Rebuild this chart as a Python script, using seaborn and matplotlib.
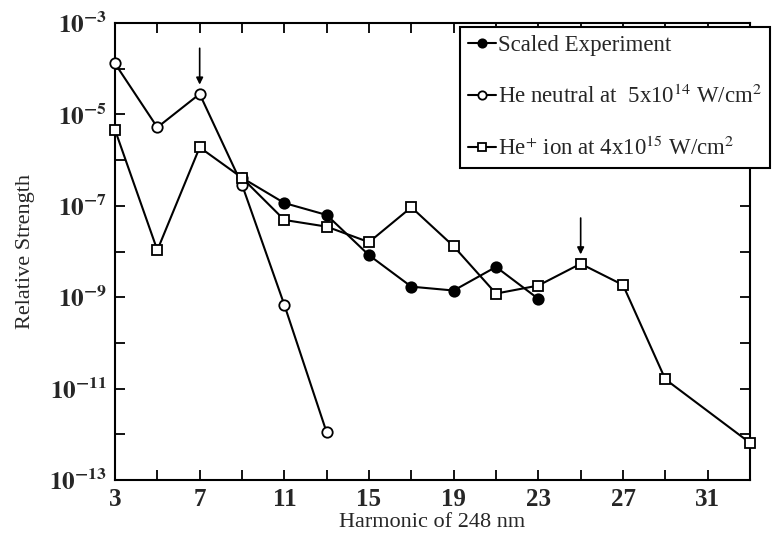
import matplotlib
matplotlib.use("Agg")
import matplotlib.pyplot as plt
import seaborn as sns
import pandas as pd
import numpy as np

# Data
harm_exp = [9, 11, 13, 15, 17, 19, 21, 23]
val_exp = [4.1e-7, 1.15e-7, 6.3e-8, 8.3e-9, 1.7e-9, 1.4e-9, 4.6e-9, 9.2e-10]

harm_neu = [3, 5, 7, 9, 11, 13]
val_neu = [1.3e-4, 5.2e-6, 2.8e-5, 2.9e-7, 6.8e-10, 1.1e-12]

harm_ion = [3, 5, 7, 9, 11, 13, 15, 17, 19, 21, 23, 25, 27, 29, 33]
val_ion = [4.6e-6, 1.07e-8, 1.9e-6, 4.1e-7, 4.9e-8, 3.5e-8, 1.6e-8, 9.3e-8,
           1.3e-8, 1.2e-9, 1.8e-9, 5.4e-9, 1.85e-9, 1.6e-11, 6.5e-13]

labels = ["Scaled Experiment",
          r"He neutral at  5x10$^{14}$ W/cm$^{2}$",
          r"He$^{+}$ ion at 4x10$^{15}$ W/cm$^{2}$"]

xticks_major = [3, 7, 11, 15, 19, 23, 27, 31]
yticks_major = [1e-3, 1e-5, 1e-7, 1e-9, 1e-11, 1e-13]
ytick_labels = [r"$\mathbf{10^{-3}}$", r"$\mathbf{10^{-5}}$", r"$\mathbf{10^{-7}}$",
                r"$\mathbf{10^{-9}}$", r"$\mathbf{10^{-11}}$", r"$\mathbf{10^{-13}}$"]
arrow_x = [7, 25]

sns.set_style("ticks")
plt.rcParams['font.family'] = ['Liberation Serif', 'DejaVu Serif']
plt.rcParams['mathtext.fontset'] = 'stix'

fig = plt.figure(figsize=(7.74, 5.33), dpi=100)
ax = fig.add_axes([115/774, 1 - 480/533, (750-115)/774, (480-23)/533])

df_exp = pd.DataFrame({"h": harm_exp, "v": val_exp})
df_neu = pd.DataFrame({"h": harm_neu, "v": val_neu})
df_ion = pd.DataFrame({"h": harm_ion, "v": val_ion})

common = dict(color="black", linewidth=1.5, markersize=7.5, markeredgewidth=1.3, clip_on=False)
sns.lineplot(data=df_exp, x="h", y="v", ax=ax, marker="o", markerfacecolor="black",
             markeredgecolor="black", label=labels[0], zorder=2, **common)
sns.lineplot(data=df_neu, x="h", y="v", ax=ax, marker="o", markerfacecolor="white",
             markeredgecolor="black", label=labels[1], zorder=3, **common)
sns.lineplot(data=df_ion, x="h", y="v", ax=ax, marker="s", markerfacecolor="white",
             markeredgecolor="black", label=labels[2], zorder=4, **common)

ax.set_yscale("log")
ax.set_xlim(3, 33)
ax.set_ylim(1e-13, 1e-3)
ax.set_xticks(xticks_major)
ax.set_xticks(list(range(5, 33, 4)) + [33], minor=True)
ax.set_xticklabels([str(t) for t in xticks_major])
ax.set_yticks(yticks_major)
ax.set_yticklabels(ytick_labels)
ax.set_yticks([10.0**e for e in range(-12, -3, 2)], minor=True)
ax.yaxis.set_minor_formatter(matplotlib.ticker.NullFormatter())

ax.tick_params(which="both", direction="in", top=True, right=True, width=1.3, color="black")
ax.tick_params(which="major", length=7, labelsize=18, pad=6)
ax.tick_params(which="minor", length=7)
for lab in ax.get_xticklabels() + ax.get_yticklabels():
    lab.set_fontweight("bold")
for sp in ax.spines.values():
    sp.set_linewidth(1.5)
    sp.set_color("black")

ax.set_xlabel("Harmonic of 248 nm", fontsize=16, labelpad=1)
ax.set_ylabel("Relative Strength", fontsize=16, labelpad=10)

# arrows
arrow_targets = [val_neu[harm_neu.index(7)], val_ion[harm_ion.index(25)]]
for xa, yv in zip(arrow_x, arrow_targets):
    ax.annotate("", xy=(xa, yv * 1.6), xytext=(xa, yv * 10),
                arrowprops=dict(arrowstyle="-|>", color="black", lw=1.2,
                                mutation_scale=10, shrinkA=0, shrinkB=0))

leg = ax.legend(loc="upper left", bbox_to_anchor=(460/774, 1 - 27/533),
                bbox_transform=fig.transFigure, frameon=True, fancybox=False,
                fontsize=16.5, handlelength=1.2, handletextpad=0.1,
                borderaxespad=0, labelspacing=1.25, borderpad=0.35)
leg.get_frame().set_edgecolor("black")
leg.get_frame().set_linewidth(1.5)
leg.get_frame().set_alpha(1)
leg.set_zorder(10)
for h in leg.legend_handles:
    h.set_markersize(6)

fig.savefig("out.png", dpi=100)
